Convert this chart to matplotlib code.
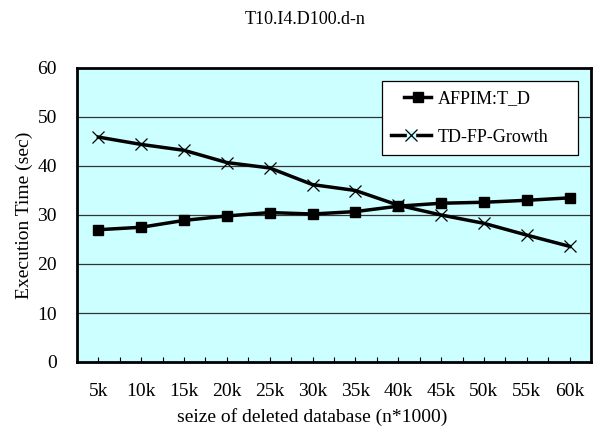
import numpy as np
import matplotlib
matplotlib.use('Agg')
import matplotlib.pyplot as plt
from matplotlib.lines import Line2D
from matplotlib.legend_handler import HandlerLine2D, HandlerTuple

plt.rcParams['font.family'] = ['Liberation Serif', 'DejaVu Serif']

sizes = ['5k', '10k', '15k', '20k', '25k', '30k', '35k', '40k', '45k', '50k', '55k', '60k']
afpim = [27.0, 27.5, 28.9, 29.8, 30.5, 30.2, 30.7, 31.8, 32.4, 32.6, 33.0, 33.5]
tdfp = [45.9, 44.4, 43.2, 40.7, 39.6, 36.2, 35.0, 32.0, 30.0, 28.3, 25.9, 23.6]

bg = '#ccffff'
x = np.arange(len(sizes))

fig = plt.figure(figsize=(5.98, 4.32), dpi=100)
ax = fig.add_axes([77/598, 1-362/432, 514/598, 294/432])
ax.set_facecolor(bg)

ax.plot(x, afpim, color='black', linewidth=2.5, marker='s', markersize=6.5, zorder=3)
ax.plot(x, tdfp, color='black', linewidth=2.5, marker='x', markersize=9,
        markeredgewidth=0.9, zorder=3)

ax.set_xlim(-0.5, len(sizes) - 0.5)
ax.set_ylim(0, 60)
ax.set_yticks(range(0, 61, 10))
ax.set_xticks(x)
ax.set_xticklabels(sizes)
ax.set_xticks(np.arange(-0.5, len(sizes), 1.0), minor=True)
ax.tick_params(axis='x', which='both', direction='in', length=3.6, width=0.8, pad=15, labelsize=14)
ax.tick_params(axis='y', length=0, pad=14.4, labelsize=14)
for yv in range(10, 60, 10):
    ax.axhline(yv, color='#333333', linewidth=0.9, zorder=1)
for s in ax.spines.values():
    s.set_linewidth(2)

ax.set_xlabel('seize of deleted database (n*1000)', fontsize=14)
ax.xaxis.label.set_va('top')
ax.xaxis.set_label_coords((312.5-77)/514, -(408.5-362)/294)
ax.set_ylabel('Execution Time (sec)', fontsize=14, labelpad=3.5)
fig.text(0.51, 1-24/432, 'T10.I4.D100.d-n', ha='center', va='baseline', fontsize=13)

# legend: the x marker sits on a small cyan square, like the original
h1 = Line2D([], [], color='black', linewidth=2.5, marker='s', markersize=6.5)
h2line = Line2D([], [], color='black', linewidth=2.5, marker='s', markersize=6,
                markerfacecolor=bg, markeredgecolor=bg)
h2x = Line2D([], [], linestyle='none', color='black', marker='x', markersize=8,
             markeredgewidth=0.9)
leg = ax.legend([h1, (h2line, h2x)], ['AFPIM:T_D', 'TD-FP-Growth'],
                handler_map={Line2D: HandlerLine2D(xpad=0.75),
                             tuple: HandlerTuple(ndivide=1, pad=0)},
                loc='upper left', mode='expand',
                bbox_to_anchor=((381.7-77)/514, (362-81)/294 - 0.3, 196/514, 0.3),
                fontsize=13, frameon=True, fancybox=False, edgecolor='black',
                framealpha=1, handlelength=2.25, handletextpad=0.37, borderpad=0.5,
                labelspacing=1.2, borderaxespad=0)
leg.get_frame().set_linewidth(0.9)

fig.savefig('out.png', dpi=100, facecolor='white')
